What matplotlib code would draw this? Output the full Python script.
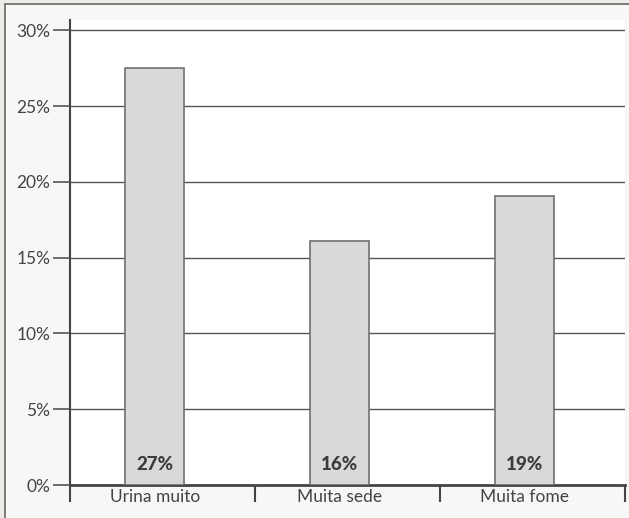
import numpy as np
import matplotlib.pyplot as plt
from matplotlib.patches import Rectangle

categories = ['Urina muito', 'Muita sede', 'Muita fome']
values = [27.5, 16.1, 19.1]
value_labels = ['27%', '16%', '19%']
yticks = [0, 5, 10, 15, 20, 25, 30]

plt.rcParams['font.family'] = ['Lato', 'DejaVu Sans']

fig = plt.figure(figsize=(6.29, 5.18), dpi=100, facecolor='#ecebe7')
# page frame from the scan
fig.patches.append(Rectangle((0.008, -0.01), 1.1, 1.002, transform=fig.transFigure,
                             facecolor='#f7f7f5', edgecolor='#666666', lw=1.2, zorder=-5))

ax = fig.add_axes([0.111, 0.0637, 0.882, 0.898])
ax.set_zorder(5)
ax.set_facecolor('white')

x = np.arange(len(categories)) + 0.46
ax.bar(x, values, width=0.32, color='#d9d9dc', edgecolor='#707070', lw=1.2, zorder=3)
for xi, lab in zip(x, value_labels):
    ax.text(xi, 1.35, lab, ha='center', va='center', fontsize=13.5,
            fontweight='black', color='#3c3c3c', zorder=4)

ax.set_xlim(0, 3)
ax.set_ylim(0, 30.7)
ax.set_yticks(yticks)
ax.set_yticklabels([f'{t}%' for t in yticks], fontsize=12.5, color='#444444')
for t in yticks[1:]:
    ax.axhline(t, color='#555555', lw=1.0, zorder=1)

ax.set_xticks([0, 1, 2, 3])
ax.set_xticklabels([])
ax.set_xticks(x, minor=True)
ax.set_xticklabels(categories, minor=True, fontsize=12.5, color='#444444')
ax.tick_params(axis='x', which='major', length=12, width=1.5, color='#444444', direction='out')
ax.tick_params(axis='x', which='minor', length=0, pad=3)
ax.tick_params(axis='y', length=12, width=1.2, color='#555555', pad=2)

for s in ['top', 'right']:
    ax.spines[s].set_visible(False)
ax.spines['left'].set_color('#444444')
ax.spines['left'].set_linewidth(1.5)
ax.spines['bottom'].set_color('#444444')
ax.spines['bottom'].set_linewidth(2)

fig.savefig('out.png', dpi=100, facecolor=fig.get_facecolor())
